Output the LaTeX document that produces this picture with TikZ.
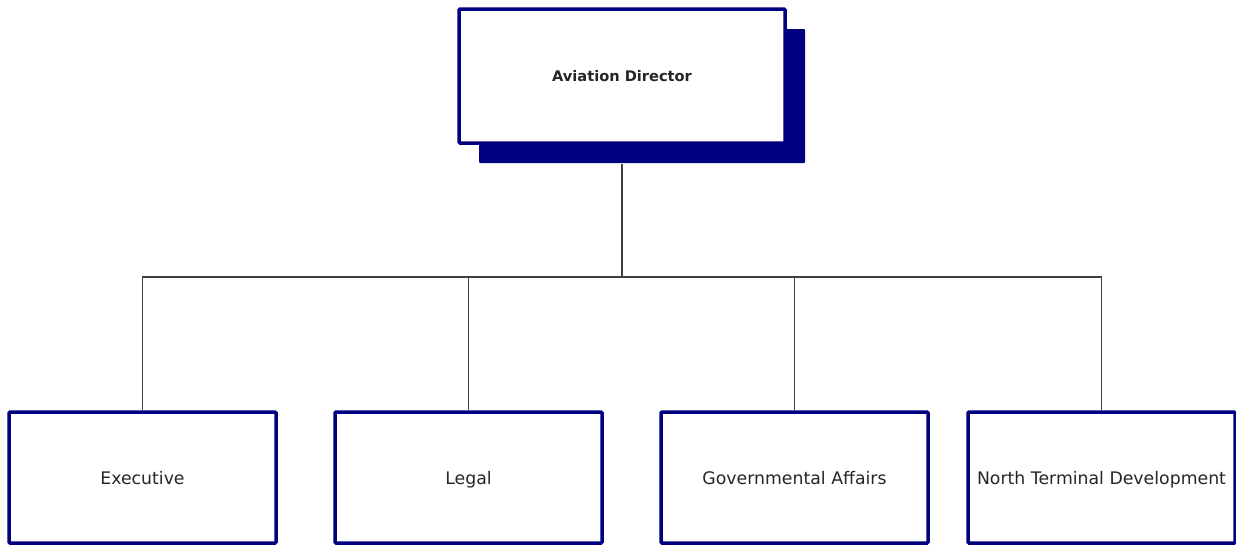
\documentclass[tikz,border=0pt]{standalone}
\usepackage{fontspec}
\setmainfont{DejaVu Sans}
\usetikzlibrary{shadows}
\definecolor{boxblue}{HTML}{000080}
\definecolor{wire}{HTML}{404040}

\tikzstyle{unit}=[draw=boxblue,fill=white,rectangle,rounded corners=1pt,line width=3.5pt,minimum width=267pt,minimum height=131pt,inner sep=0pt,text height=15pt,text depth=2pt,text=black!85,font=\fontsize{17.3}{19}\selectfont]
\tikzstyle{head}=[unit,minimum width=326pt,minimum height=134pt,text height=13pt,text depth=3pt,font=\bfseries\fontsize{14.6}{17}\selectfont,drop shadow={shadow xshift=20pt,shadow yshift=-20pt,fill=boxblue,opacity=1}]
\tikzstyle{link}=[draw=wire,line width=1.4pt]

\begin{document}
\begin{tikzpicture}[x=1pt,y=-1pt]
			\useasboundingbox (0,0) rectangle (1236,546);
			\node (dir)[head] at (622,76) {Aviation Director};
			\coordinate (bus) at (622,277);
			\draw[link,shorten <=19pt] (dir.south) -- (bus);
			\foreach \nr/\cx/\name in {1/142.5/Executive, 2/468.5/Legal, 3/794.5/Governmental Affairs, 4/1101.5/North Terminal Development}{
				\node (U\nr)[unit] at (\cx,477.5) {\name};
				\draw[link] (U\nr.north) |- (bus);
			}
		\end{tikzpicture}
\end{document}
